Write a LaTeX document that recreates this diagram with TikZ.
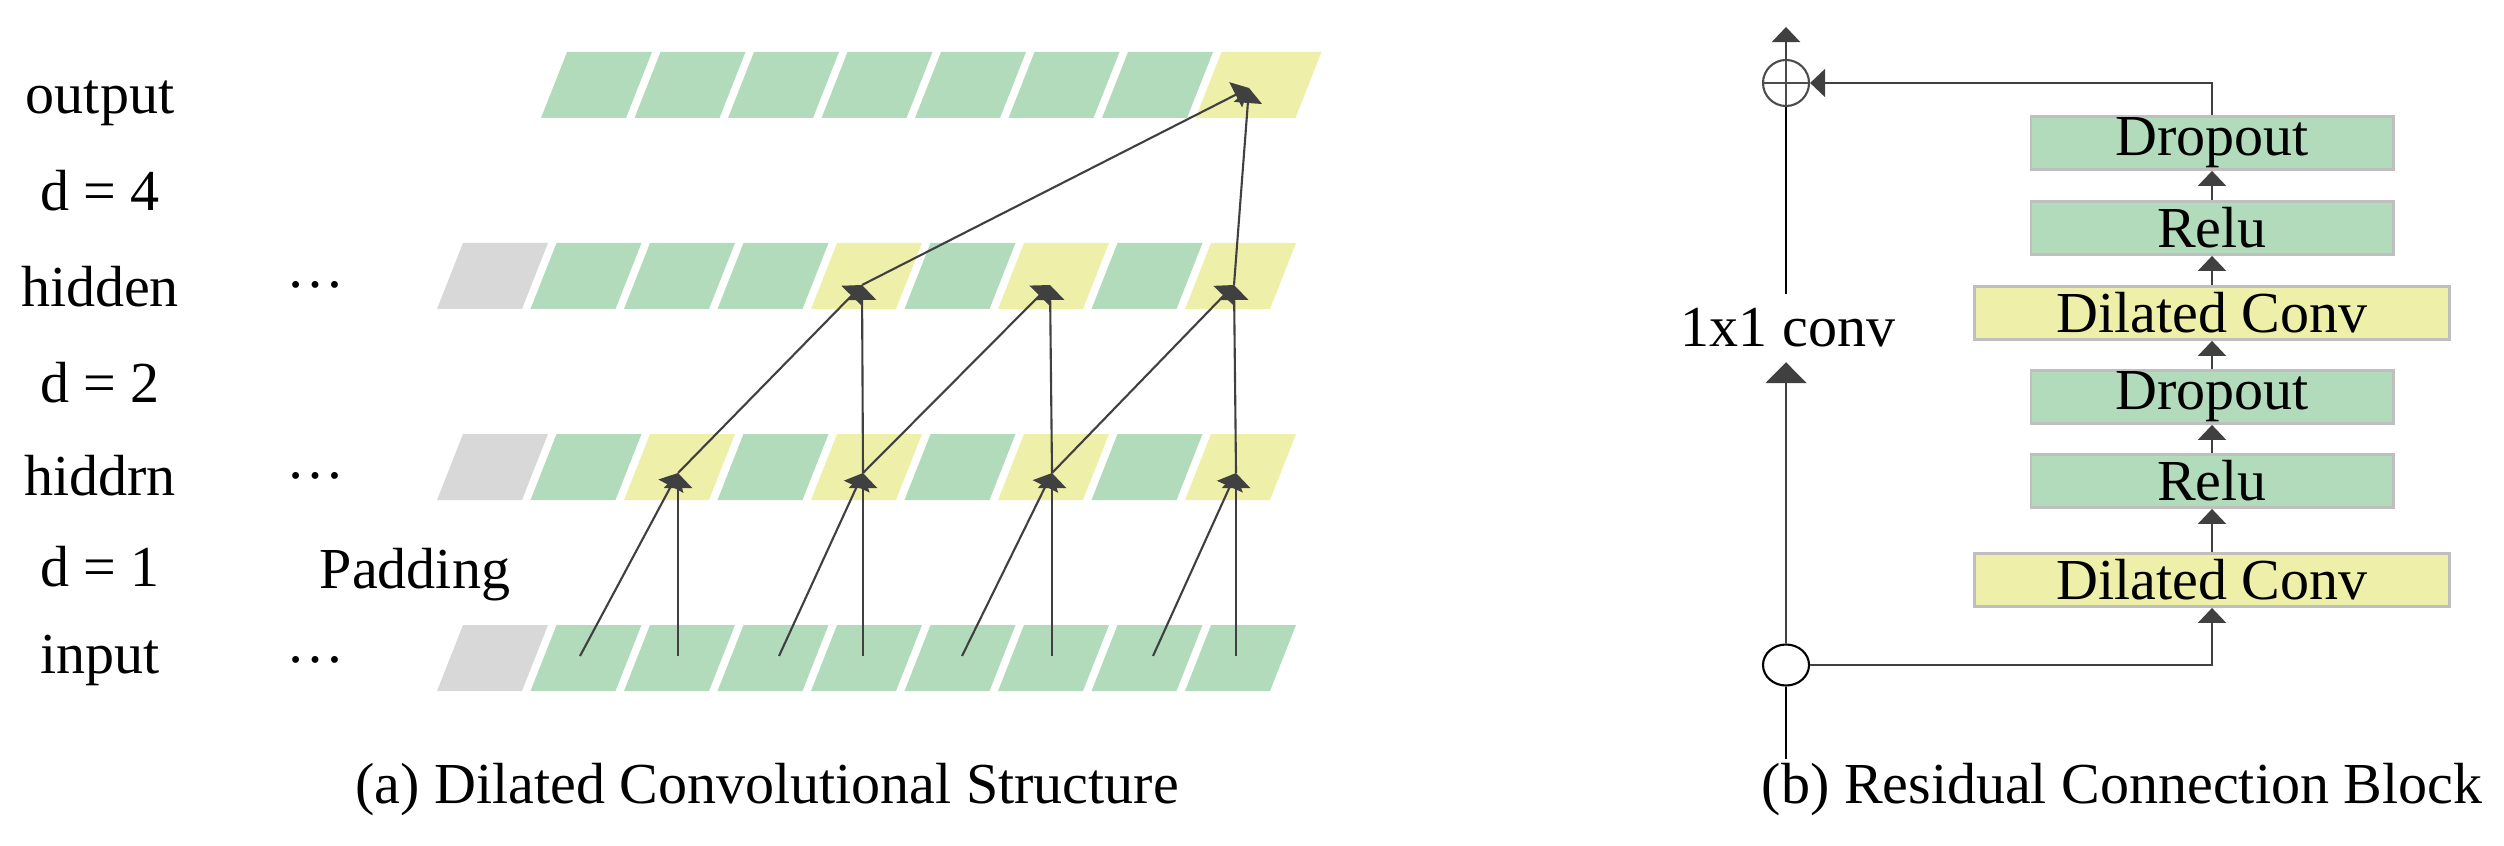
\documentclass[tikz,border=0pt]{standalone}
\usepackage{fontspec}
\setmainfont{Liberation Serif}
\usetikzlibrary{arrows.meta,shapes.geometric}
\definecolor{cg}{RGB}{178,219,187}
\definecolor{cy}{RGB}{238,239,168}
\definecolor{cgr}{RGB}{216,216,216}
\definecolor{ar}{RGB}{64,64,64}
\begin{document}
\begin{tikzpicture}[x=0.01cm,y=-0.01cm,
  txt/.style={font=\fontsize{16.5}{20}\selectfont, inner sep=0pt},
  arr/.style={draw=ar, line width=0.6pt, -{Triangle[width=0.28cm,length=0.16cm]}},
  sarr/.style={draw=ar, line width=0.6pt, -{Triangle[width=0.28cm,length=0.15cm]}},
  box/.style={draw=black!25, line width=0.8pt, minimum height=0.53cm, inner sep=0pt, font=\fontsize{16.5}{20}\selectfont},
  gbox/.style={box, fill=cg, minimum width=3.62cm},
  ybox/.style={box, fill=cy, minimum width=4.75cm}]
\useasboundingbox (0,0) rectangle (2504,846);
\newcommand{\pcell}[5]{\fill[#3] (#1,#2+66) -- (#1+#4,#2+66) -- (#1+#4+26,#2) -- (#1+26,#2) -- cycle;}
% output row
\foreach \i in {0,...,6} {\pcell{541+93.5*\i}{52}{cg}{85}{}}
\pcell{1195.5}{52}{cy}{100}{}
% hidden row
\foreach \c [count=\i from 0] in {cgr,cg,cg,cg,cy,cg,cy,cg,cy} {\pcell{437+93.5*\i}{243}{\c}{85}{}}
% hiddrn row
\foreach \c [count=\i from 0] in {cgr,cg,cy,cg,cy,cg,cy,cg,cy} {\pcell{437+93.5*\i}{434}{\c}{85}{}}
% input row
\foreach \c [count=\i from 0] in {cgr,cg,cg,cg,cg,cg,cg,cg,cg} {\pcell{437+93.5*\i}{625}{\c}{85}{}}
% coordinates
\coordinate (o) at (1249,88);
\coordinate (h1) at (862,285); \coordinate (h2) at (1050,285); \coordinate (h3) at (1234,285);
\coordinate (m1) at (678,473); \coordinate (m2) at (863,473); \coordinate (m3) at (1052,473); \coordinate (m4) at (1236,473);
\coordinate (i1) at (580,656); \coordinate (i2) at (678,656); \coordinate (i3) at (779,656); \coordinate (i4) at (863,656);
\coordinate (i5) at (962,656); \coordinate (i6) at (1052,656); \coordinate (i7) at (1153,656); \coordinate (i8) at (1236,656);
\draw[sarr] (i1) -- (m1); \draw[sarr] (i2) -- (m1);
\draw[sarr] (i3) -- (m2); \draw[sarr] (i4) -- (m2);
\draw[sarr] (i5) -- (m3); \draw[sarr] (i6) -- (m3);
\draw[sarr] (i7) -- (m4); \draw[sarr] (i8) -- (m4);
\draw[sarr] (m1) -- (h1); \draw[sarr] (m2) -- (h1);
\draw[sarr] (m2) -- (h2); \draw[sarr] (m3) -- (h2);
\draw[sarr] (m3) -- (h3); \draw[sarr] (m4) -- (h3);
\draw[sarr] (h1) -- (o); \draw[sarr] (h3) -- (o);
% left labels
\node[txt] (l1) at (100,103) {output};
\node[txt] (l2) at (100,191) {d = 4};
\node[txt] (l3) at (100,287) {hidden};
\node[txt] (l4) at (100,383) {d = 2};
\node[txt] (l5) at (100,476) {hiddrn};
\node[txt] (l6) at (100,567) {d = 1};
\node[txt] (l7) at (100,660) {input};
\node[txt] (e1) at (316,285) {\dots};
\node[txt] (e2) at (316,476) {\dots};
\node[txt] (e3) at (316,660) {\dots};
\node[txt] (pad) at (415,575) {Padding};
\node[txt] (ca) at (767,790) {(a) Dilated Convolutional Structure};
% right block
\node[gbox] (b1) at (2212,143) {Dropout};
\node[gbox] (b2) at (2212,228) {Relu};
\node[ybox] (b3) at (2212,313) {Dilated Conv};
\node[gbox] (b4) at (2212,397) {Dropout};
\node[gbox] (b5) at (2212,481) {Relu};
\node[ybox] (b6) at (2212,580) {Dilated Conv};
\draw[sarr] (b6.north) -- (b5.south);
\draw[sarr] (b5.north) -- (b4.south);
\draw[sarr] (b4.north) -- (b3.south);
\draw[sarr] (b3.north) -- (b2.south);
\draw[sarr] (b2.north) -- (b1.south);
\node[draw=black, line width=0.6pt, ellipse, minimum width=0.46cm, minimum height=0.41cm, inner sep=0pt] (src) at (1786,665) {};
\node[draw=black!70, line width=0.6pt, circle, minimum size=0.46cm, inner sep=0pt] (sum) at (1786,83) {};
\draw[black!70, line width=0.6pt] (sum.north) -- (sum.south) (sum.west) -- (sum.east);
\coordinate (bot) at (1786,759);
\coordinate (top) at (1786,27);
\node[txt, inner sep=4pt] (conv) at (1788,328) {1x1 conv};
\draw[line width=0.6pt] (bot) -- (src.south);
\draw[arr, -{Triangle[width=0.41cm,length=0.21cm]}] (src.north) -- (conv.south -| src.north);
\draw[line width=0.6pt] (conv.north -| sum.south) -- (sum.south);
\draw[sarr] (sum.north) -- (top);
\coordinate (c1) at (b6.south |- src.east);
\draw[sarr] (src.east) -- (c1) -- (b6.south);
\coordinate (c2) at (b1.north |- sum.east);
\draw[sarr] (b1.north) -- (c2) -- (sum.east);
\node[txt] (cb) at (2122,790) {(b) Residual Connection Block};
\end{tikzpicture}
\end{document}
